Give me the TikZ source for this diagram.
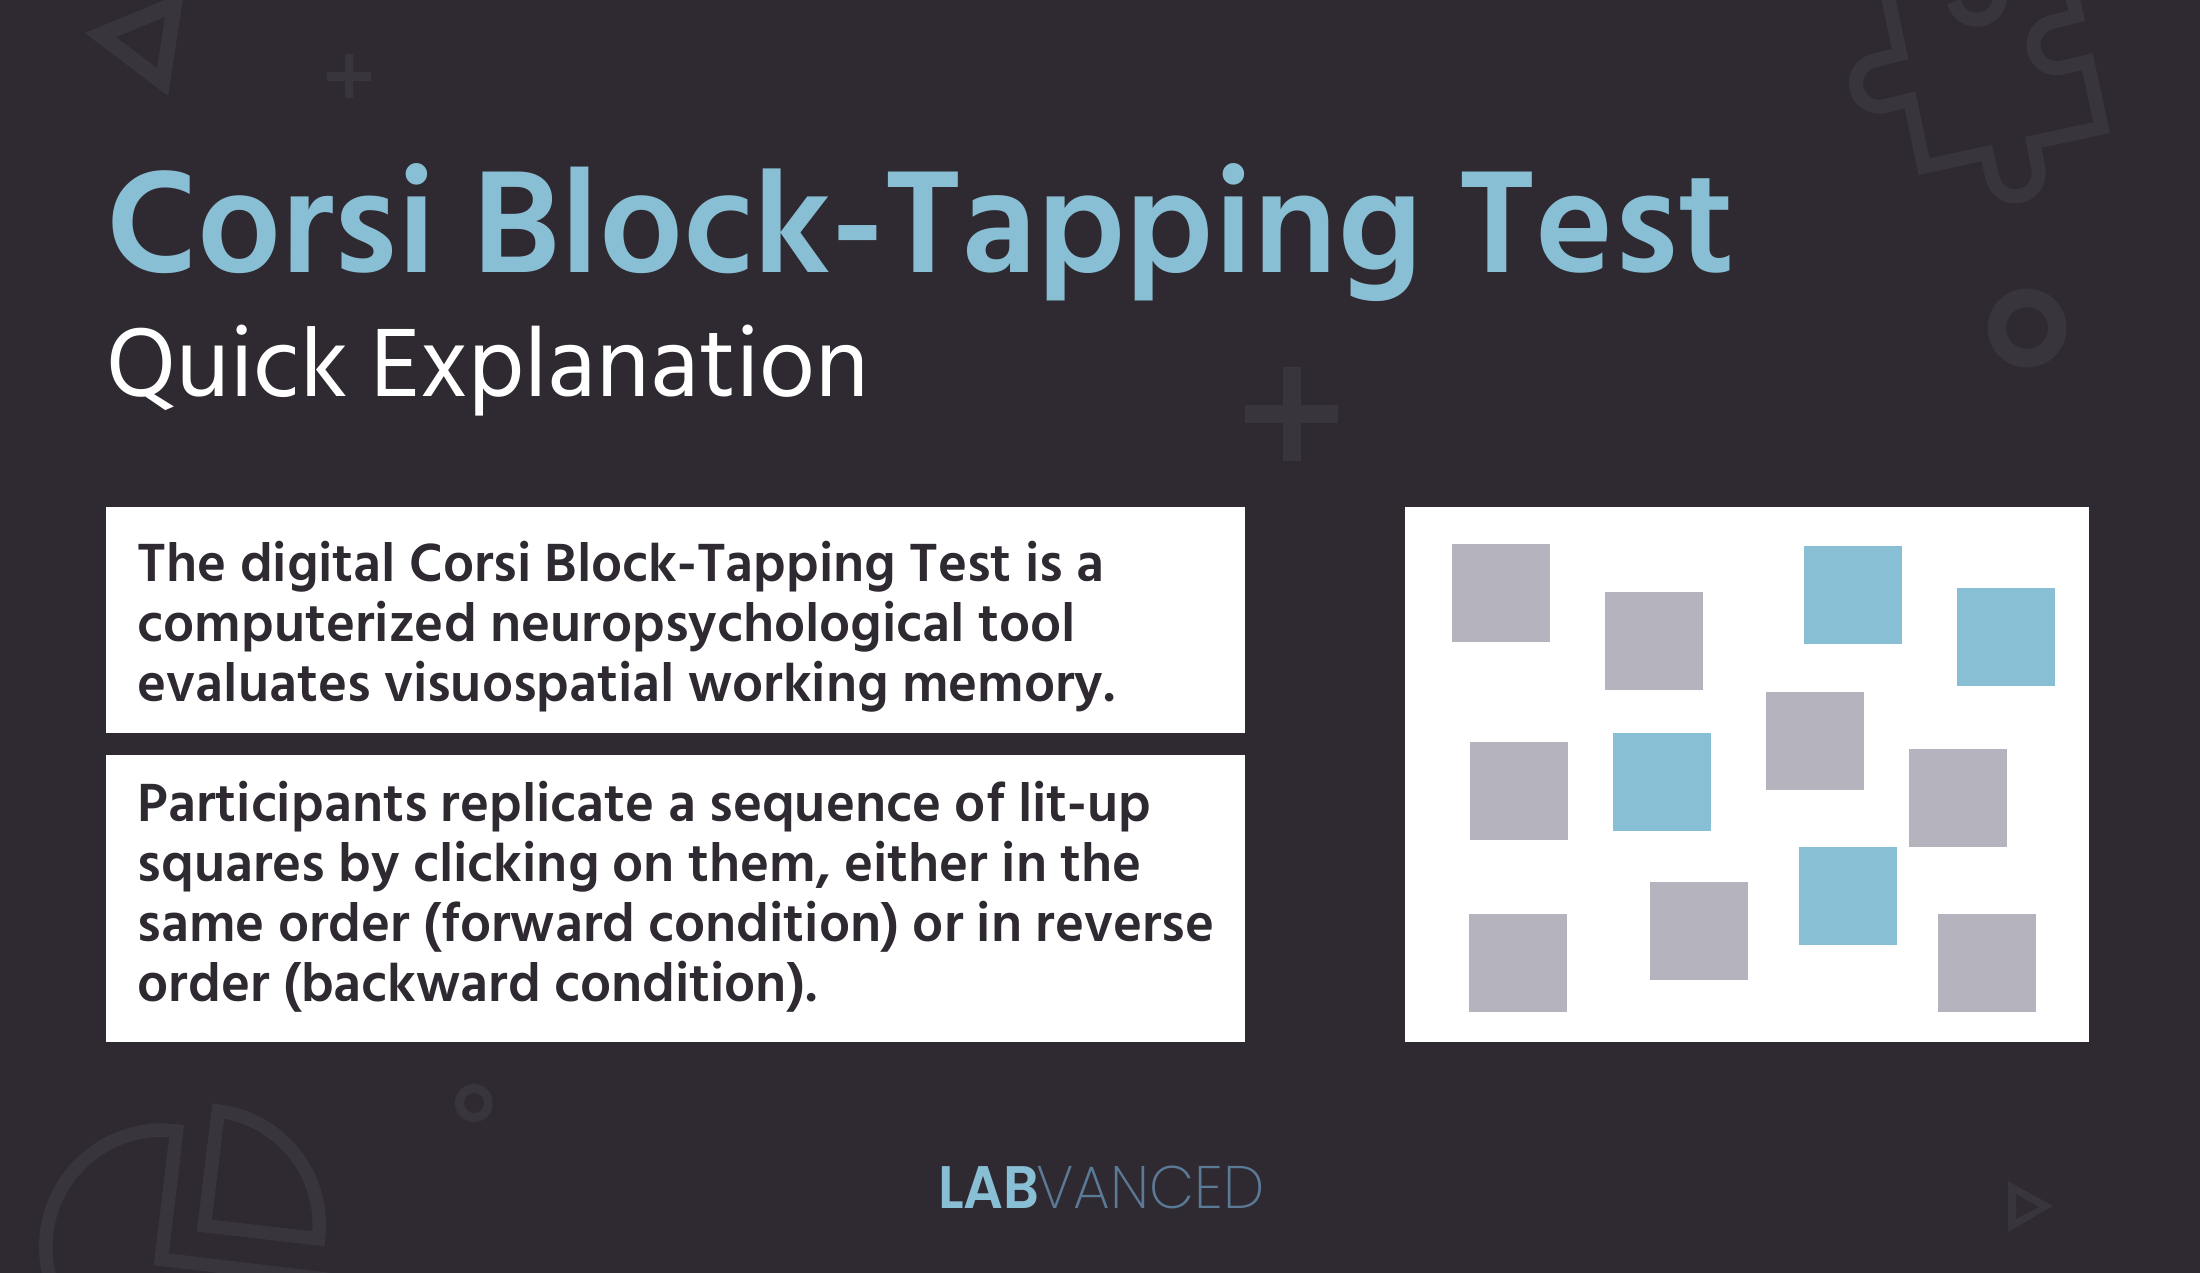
\documentclass[tikz,border=0pt]{standalone}
\usepackage{fontspec}
\setmainfont{Hind Siliguri}
\newfontfamily\hindsemi{Hind Siliguri SemiBold}
\newfontfamily\logobold{Poppins SemiBold}
\newfontfamily\logothin{Poppins ExtraLight}
\definecolor{bgdark}{HTML}{2F2A31}
\definecolor{deco}{HTML}{39353D}
\definecolor{skyblue}{HTML}{89BFD4}
\definecolor{blockgray}{HTML}{B5B3BE}
\definecolor{logodark}{HTML}{5A7A96}
\tikzset{
  x=1pt,y=-1pt,
  panel/.style={fill=white,draw=none},
  blockg/.style={fill=blockgray,draw=none},
  blockb/.style={fill=skyblue,draw=none},
  decofill/.style={fill=deco,draw=none,even odd rule},
  decoline/.style={draw=deco,line width=14pt,miter limit=10},
  bodytext/.style={anchor=base west,inner sep=0pt,align=left,text=bgdark,font=\hindsemi\fontsize{55.15}{60}\selectfont},
  zoomed/.style={shift={#1},x=0.3333pt,y=-0.3333pt},
}
\begin{document}
\begin{tikzpicture}
\useasboundingbox (0,0) rectangle (2200,1272);
\clip (-6,-6) rectangle (2206,1278);
\fill[bgdark] (-6,-6) rectangle (2206,1278);
% decorations
\fill[decofill] (85,33) -- (184,-8) -- (168,96) -- cycle (116,37) -- (165,17) -- (157,68) -- cycle;
\fill[decofill] (345,54) rectangle (353,98);
\fill[decofill] (327,72) rectangle (371,81);
\fill[decofill] (1283,367) rectangle (1301,461);
\fill[decofill] (1245,405) rectangle (1338,423);
\fill[decofill] (2027,328) circle (39.5) (2027,328) circle (21);
\fill[decofill] (2008,1181) -- (2053,1206) -- (2008,1232) -- cycle (2016,1194) -- (2039,1207) -- (2016,1219) -- cycle;
\begin{scope}
\clip (440,1070) rectangle (492,1135);
\fill[decofill] (474,1103) circle (19) (474,1103) circle (10);
\end{scope}
\begin{scope}[zoomed={(1780,0)}]
\draw[decoline,line width=14pt] (322,-20) -- (360,162) -- (282,182) arc (257:77:70) -- (390,300) -- (432,500) -- (620,459) -- (638,535) arc (167:-13:70) -- (760,427) -- (965,383) -- (922,185) -- (846,203) arc (77:257:70) -- (890,47) -- (872,-30);
\draw[decoline,line width=14pt] (522,5) arc (167:-13:70);
\end{scope}
\begin{scope}[zoomed={(0,1050)}]
\draw[decoline,line width=13.5pt] (613,527) -- (655,183) arc (-83:6.8:345) -- cycle;
\draw[decoline,line width=13.5pt] (1000,690) -- (484,628) -- (530,243) arc (277:100:350);
\end{scope}
% title
\node[anchor=base west,inner sep=0pt,text=skyblue,font=\hindsemi\fontsize{149.1}{150}\selectfont] (title) at (106,272.5) {Corsi Block-Tapping Test};
\node[anchor=base west,inner sep=0pt,text=white,font=\fontsize{99.5}{100}\selectfont] (subtitle) at (106,396) {Quick Explanation};
% panels
\fill[panel] (106,506.5) rectangle (1245,732.5);
\fill[panel] (106,754.5) rectangle (1245,1041.5);
\fill[panel] (1405,506.5) rectangle (2089,1041.5);
\node[bodytext] (para1) at (137.5,701.3) {The digital Corsi Block-Tapping Test is a\\computerized neuropsychological tool\\evaluates visuospatial working memory.};
\node[bodytext] (para2) at (137.5,1001.3) {Participants replicate a sequence of lit-up\\squares by clicking on them, either in the\\same order (forward condition) or in reverse\\order (backward condition).};
% blocks
\foreach \px/\py in {1452/543.5,1605/591.5,1470/741.5,1766/691.5,1909/748.5,1469/913.5,1650/881.5,1938/913.5}
  \fill[blockg] (\px,\py) rectangle ++(98,98);
\foreach \px/\py in {1804/545.5,1957/587.5,1613/732.5,1799/846.5}
  \fill[blockb] (\px,\py) rectangle ++(98,98);
% logo
\node[anchor=base west,inner sep=0pt,text=skyblue,font=\logobold\fontsize{60}{60}\selectfont] (logoa) at (938,1208) {\scalebox{0.93}[1]{LAB}};
\node[anchor=base west,inner sep=0pt,text=logodark,font=\logothin\fontsize{60}{60}\selectfont] (logob) at (1036,1208) {\scalebox{0.975}[1]{VANCED}};
\end{tikzpicture}
\end{document}
